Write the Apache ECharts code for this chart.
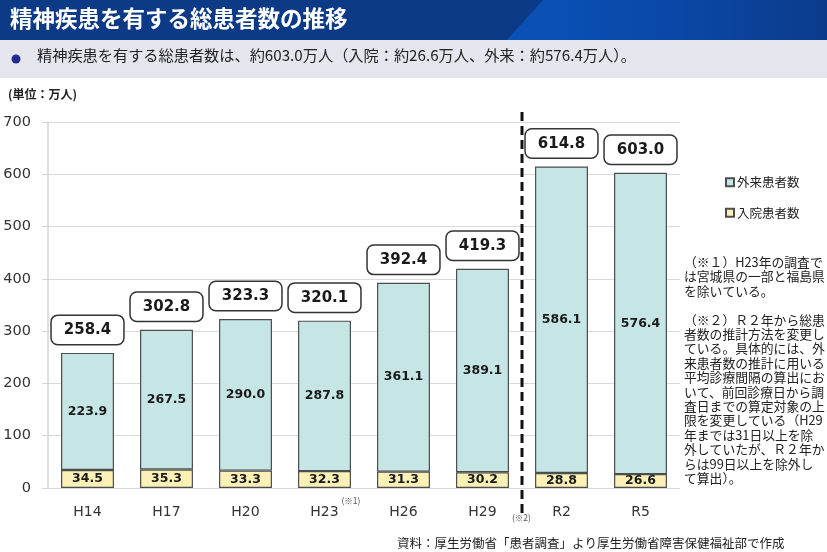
<!DOCTYPE html>
<html>
<head>
<meta charset="utf-8">
<script src="https://cdn.jsdelivr.net/npm/echarts@6/dist/echarts.min.js"></script>
<style>
  html, body { margin: 0; padding: 0; background: #fff; }
  #main { width: 827px; height: 552px; }
</style>
</head>
<body>
<div id="main"></div>
<script type="text/javascript">
// 調査年
var years = ['H14', 'H17', 'H20', 'H23', 'H26', 'H29', 'R2', 'R5'];
// 入院患者数（万人）
var inpatient = [34.5, 35.3, 33.3, 32.3, 31.3, 30.2, 28.8, 26.6];
// 外来患者数（万人）
var outpatient = [223.9, 267.5, 290.0, 287.8, 361.1, 389.1, 586.1, 576.4];
// 総患者数（万人）
var totals = [258.4, 302.8, 323.3, 320.1, 392.4, 419.3, 614.8, 603.0];
var yTicks = [0, 100, 200, 300, 400, 500, 600, 700];

var numFont = 'DejaVu Sans, Verdana, sans-serif';
var jpFont = '"Noto Sans CJK JP", sans-serif';

var notes = [
  '（※１）H23年の調査で',
  'は宮城県の一部と福島県',
  'を除いている。',
  '',
  '（※２）Ｒ２年から総患',
  '者数の推計方法を変更し',
  'ている。具体的には、外',
  '来患者数の推計に用いる',
  '平均診療間隔の算出にお',
  'いて、前回診療日から調',
  '査日までの算定対象の上',
  '限を変更している（H29',
  '年までは31日以上を除',
  '外していたが、Ｒ２年か',
  'らは99日以上を除外し',
  'て算出）。'
];

var myChart = echarts.init(document.getElementById('main'));

var option = {
  animation: false,
  textStyle: { fontFamily: numFont },
  grid: { left: 48, right: 147, top: 122, bottom: 64 },
  legend: {
    data: ['外来患者数', '入院患者数'],
    orient: 'vertical',
    left: 720,
    top: 171,
    itemWidth: 8,
    itemHeight: 8,
    itemGap: 18,
    icon: 'rect',
    textStyle: { fontFamily: jpFont, fontSize: 12.5, color: '#222', padding: [0, 0, 0, -2] }
  },
  xAxis: {
    type: 'category',
    data: years,
    axisLine: { show: false },
    axisTick: { show: false },
    axisLabel: { fontSize: 14, color: '#333', margin: 17, fontFamily: numFont }
  },
  yAxis: {
    type: 'value',
    min: 0,
    max: 700,
    interval: 100,
    axisLine: { show: true, lineStyle: { color: '#d4d4d4', width: 1.5 } },
    axisTick: { show: true, length: 6, lineStyle: { color: '#d4d4d4' } },
    splitLine: { lineStyle: { color: '#dadada', width: 1.2 } },
    axisLabel: {
      fontSize: 14.5, color: '#333', margin: 17, fontFamily: numFont,
      formatter: function (v) { return yTicks.indexOf(v) >= 0 ? String(v) : ''; }
    }
  },
  series: [
    {
      name: '入院患者数',
      type: 'bar',
      stack: 'all',
      data: inpatient,
      barCategoryGap: '33%',
      itemStyle: { color: '#fbf0b5', borderColor: '#4d4d4d', borderWidth: 1.2 },
      label: {
        show: true, position: 'inside', color: '#1a1a1a',
        fontWeight: 'bold', fontSize: 12.5, fontFamily: numFont,
        formatter: function (p) { return p.value.toFixed(1); }
      }
    },
    {
      name: '外来患者数',
      type: 'bar',
      stack: 'all',
      data: outpatient,
      barCategoryGap: '33%',
      itemStyle: { color: '#c6e6e6', borderColor: '#4d4d4d', borderWidth: 1.2 },
      label: {
        show: true, position: 'inside', color: '#1a1a1a',
        fontWeight: 'bold', fontSize: 12.5, fontFamily: numFont,
        formatter: function (p) { return p.value.toFixed(1); }
      }
    },
    {
      name: '総患者数',
      type: 'bar',
      data: totals,
      barGap: '-100%',
      barCategoryGap: '33%',
      silent: true,
      itemStyle: { color: 'rgba(0,0,0,0)' },
      label: {
        show: true, position: 'top', distance: 9,
        color: '#1a1a1a', fontWeight: 'bold', fontSize: 15, fontFamily: numFont,
        backgroundColor: '#fff', borderColor: '#333', borderWidth: 1.5, borderRadius: 6,
        padding: [7, 12, 6, 12],
        formatter: function (p) { return p.value.toFixed(1); }
      }
    }
  ],
  graphic: [
    // タイトル帯
    { type: 'rect', left: 0, top: 0, shape: { width: 827, height: 40 }, style: { fill: '#0d3a86' }, silent: true },
    {
      type: 'polygon', silent: true,
      shape: { points: [[543, 0], [827, 0], [827, 40], [507, 40]] },
      style: {
        fill: new echarts.graphic.LinearGradient(0, 0, 1, 0, [
          { offset: 0, color: '#0a52b8' },
          { offset: 0.55, color: '#0a47a6' },
          { offset: 1, color: '#0c3a8a' }
        ])
      }
    },
    {
      type: 'text', left: 10, top: 7, silent: true,
      style: { text: '精神疾患を有する総患者数の推移', fill: '#fff', font: 'bold 22.5px "Noto Sans CJK JP", sans-serif' }
    },
    // サブタイトル帯
    { type: 'rect', left: 0, top: 40, shape: { width: 827, height: 38 }, style: { fill: '#e5e5ed' }, silent: true },
    { type: 'circle', silent: true, shape: { cx: 16, cy: 59, r: 4.5 }, style: { fill: '#1f2d8f' } },
    {
      type: 'text', left: 37, top: 48, silent: true,
      style: {
        text: '精神疾患を有する総患者数は、約603.0万人（入院：約26.6万人、外来：約576.4万人）。',
        fill: '#222', font: '15.2px "Noto Sans CJK JP", sans-serif'
      }
    },
    {
      type: 'text', left: 8, top: 88, silent: true,
      style: { text: '(単位：万人)', fill: '#222', font: 'bold 12px "Noto Sans CJK JP", sans-serif' }
    },
    // 注記
    {
      type: 'text', left: 684, top: 255, silent: true,
      style: {
        text: notes.join('\n'), fill: '#222', lineHeight: 14.4,
        font: '12.8px "Noto Sans CJK JP", sans-serif'
      }
    },
    {
      type: 'text', left: 397, top: 537, silent: true,
      style: {
        text: '資料：厚生労働省「患者調査」より厚生労働省障害保健福祉部で作成',
        fill: '#222', font: '12.5px "Noto Sans CJK JP", sans-serif'
      }
    }
  ]
};

myChart.setOption(option);

// H23 の注記と H29/R2 間の破線は軸座標から位置を決める
var x23 = myChart.convertToPixel({ xAxisIndex: 0 }, 'H23');
var x29 = myChart.convertToPixel({ xAxisIndex: 0 }, 'H29');
var xR2 = myChart.convertToPixel({ xAxisIndex: 0 }, 'R2');
var yTop = myChart.convertToPixel({ yAxisIndex: 0 }, 700);
var yZero = myChart.convertToPixel({ yAxisIndex: 0 }, 0);
var xMid = (x29 + xR2) / 2;

myChart.setOption({
  graphic: option.graphic.concat([
    {
      type: 'line', silent: true, z: 10,
      shape: { x1: xMid, y1: yTop - 10, x2: xMid, y2: yZero + 26 },
      style: { stroke: '#111', lineWidth: 3, lineDash: [9, 5] }
    },
    {
      type: 'text', silent: true, left: x23 + 17, top: yZero + 9,
      style: { text: '(※1)', fill: '#555', font: '8.5px "Noto Sans CJK JP", sans-serif' }
    },
    {
      type: 'text', silent: true, left: xMid - 10, top: yZero + 26,
      style: { text: '(※2)', fill: '#555', font: '8.5px "Noto Sans CJK JP", sans-serif' }
    }
  ])
});
</script>
</body>
</html>
